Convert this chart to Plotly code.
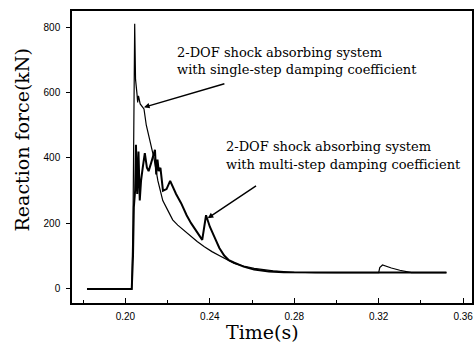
import plotly.graph_objects as go

# ---- data ----
t_single = [0.1818, 0.2030, 0.2036, 0.2040, 0.2044, 0.2048, 0.2051, 0.2055, 0.2058, 0.2062,
            0.2070, 0.2088, 0.2099, 0.2110, 0.2123, 0.2135, 0.2154, 0.2177, 0.2201, 0.2224,
            0.2248, 0.2280, 0.2311, 0.2340, 0.2374, 0.2410, 0.2453, 0.2490, 0.2516, 0.2560,
            0.2610, 0.2700, 0.2800, 0.2900, 0.3000, 0.3100, 0.3200, 0.3205, 0.3218, 0.3260,
            0.3300, 0.3355, 0.3450, 0.3521]
f_single = [0, 0, 200, 500, 810, 640, 605, 595, 570, 590,
            565, 550, 500, 470, 430, 400, 330, 270, 240, 211,
            195, 177, 160, 145, 129, 114, 99, 86, 78, 70,
            63, 55, 51, 50, 50, 50, 50, 65, 73, 64,
            57, 50, 50, 50]

t_multi = [0.1818, 0.2030, 0.2036, 0.2040, 0.2046, 0.2050, 0.2056, 0.2062, 0.2068, 0.2074,
           0.2082, 0.2092, 0.2102, 0.2110, 0.2122, 0.2140, 0.2146, 0.2152, 0.2158, 0.2166,
           0.2178, 0.2195, 0.2212, 0.2240, 0.2264, 0.2290, 0.2311, 0.2340, 0.2364, 0.2382,
           0.2400, 0.2421, 0.2445, 0.2468, 0.2490, 0.2516, 0.2560, 0.2610, 0.2680, 0.2750,
           0.2850, 0.3000, 0.3200, 0.3400, 0.3521]
f_multi = [0, 0, 100, 250, 300, 440, 290, 420, 270, 330,
           370, 415, 370, 360, 385, 425, 350, 395, 360, 370,
           300, 305, 330, 290, 262, 225, 201, 175, 150, 225,
           190, 160, 125, 102, 88, 80, 68, 59, 53, 51,
           50, 50, 50, 50, 50]

x_ticks = [0.20, 0.24, 0.28, 0.32, 0.36]
x_tick_labels = ["0.20", "0.24", "0.28", "0.32", "0.36"]
y_ticks = [0, 200, 400, 600, 800]
y_tick_labels = ["0", "200", "400", "600", "800"]

label_single = ["2-DOF shock absorbing system", "with single-step damping coefficient"]
label_multi = ["2-DOF shock absorbing system", "with multi-step damping coefficient"]

fig = go.Figure()
fig.add_trace(go.Scatter(x=t_single, y=f_single, mode="lines",
                         line=dict(color="black", width=1.2), showlegend=False))
fig.add_trace(go.Scatter(x=t_multi, y=f_multi, mode="lines",
                         line=dict(color="black", width=2), showlegend=False))

text_font = dict(family="DejaVu Serif", size=13, color="black")
annotations = []
# text blocks
for i, s in enumerate(label_single):
    annotations.append(dict(x=0.2233, y=[721, 669][i], xref="x", yref="y", text=s,
                            showarrow=False, xanchor="left", yanchor="middle", font=text_font))
for i, s in enumerate(label_multi):
    annotations.append(dict(x=0.2469, y=[434, 379][i], xref="x", yref="y", text=s,
                            showarrow=False, xanchor="left", yanchor="middle", font=text_font))
# arrows
annotations.append(dict(x=0.2088, y=555, ax=0.2476, ay=628, xref="x", yref="y",
                        axref="x", ayref="y", text="", showarrow=True, arrowhead=2,
                        arrowsize=0.8, arrowwidth=1.4, arrowcolor="black"))
annotations.append(dict(x=0.2390, y=216, ax=0.2626, ay=318, xref="x", yref="y",
                        axref="x", ayref="y", text="", showarrow=True, arrowhead=2,
                        arrowsize=0.8, arrowwidth=1.4, arrowcolor="black"))
# axis titles
title_font = dict(family="DejaVu Serif", size=19, color="black")
annotations.append(dict(x=0.475, y=-0.10, xref="paper", yref="paper", text="Time(s)",
                        showarrow=False, xanchor="center", yanchor="middle", font=title_font))
annotations.append(dict(x=-0.124, y=0.558, xref="paper", yref="paper", text="Reaction force(kN)",
                        showarrow=False, xanchor="center", yanchor="middle", textangle=-90,
                        font=title_font))

tick_font = dict(family="Liberation Sans", size=10, color="black")
fig.update_layout(
    width=476, height=350,
    margin=dict(l=72, r=2, t=11, b=47),
    plot_bgcolor="white", paper_bgcolor="white",
    annotations=annotations,
    xaxis=dict(range=[0.1747, 0.3642], tickvals=x_ticks, ticktext=x_tick_labels,
               showgrid=False, zeroline=False, showline=True, linecolor="black",
               linewidth=1.5, mirror=True, ticks="inside", ticklen=5, tickwidth=1,
               tickcolor="black", ticklabelstandoff=3,
               minor=dict(dtick=0.02, tick0=0.18, ticks="inside", ticklen=3,
                          tickcolor="black", showgrid=False),
               tickfont=tick_font),
    yaxis=dict(range=[-43, 849], tickvals=y_ticks, ticktext=y_tick_labels,
               showgrid=False, zeroline=False, showline=True, linecolor="black",
               linewidth=1.5, mirror=True, ticks="outside", ticklen=4, tickwidth=1,
               tickcolor="black", ticklabelstandoff=4,
               tickfont=tick_font),
)

fig.write_html("out.html")
